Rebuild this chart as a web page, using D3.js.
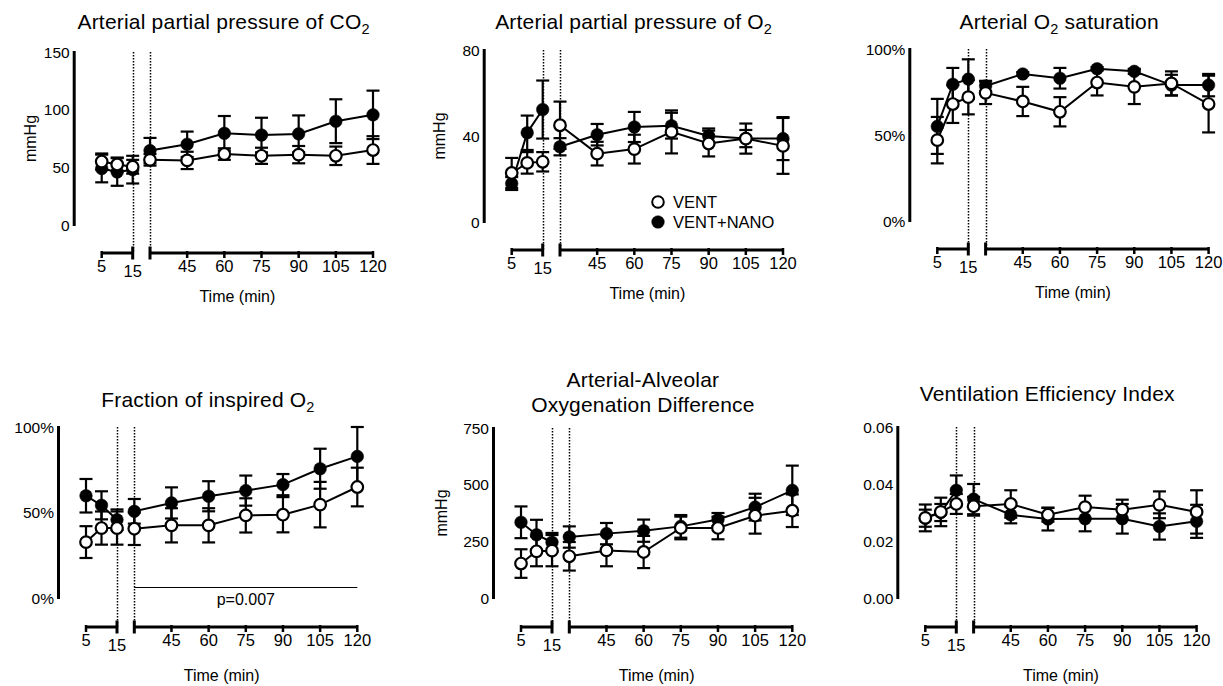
<!DOCTYPE html>
<html>
<head>
<meta charset="utf-8">
<script src="https://cdn.jsdelivr.net/npm/d3@7"></script>
<style>
  body { margin: 0; background: #fff; }
  svg { display: block; font-family: "Liberation Sans", Arial, sans-serif; }
</style>
</head>
<body>
<svg id="chart" width="1223" height="686"></svg>
<script>
// sampling times (min); gap between 15 and 30
const timePoints = [5, 10, 15, 30, 45, 60, 75, 90, 105, 120]
const xTickLabels = [5, 15, 45, 60, 75, 90, 105, 120]
const seriesNames = ['VENT', 'VENT+NANO']

const paco2Vent = [55, 52.5, 50.5, 56.5, 56, 61.5, 60, 61, 60, 65]
const paco2VentErr = [7, 6, 6, 5, 7.5, 5, 7, 7.5, 8, 12]
const paco2Nano = [49, 46, 48, 64.5, 70, 79.5, 78, 79, 90, 95.5]
const paco2NanoErr = [12, 12, 12, 11, 11, 15, 15, 16, 19, 21]

const pao2Vent = [22.8, 27.5, 28, 45, 31.8, 33.9, 41.9, 36.5, 38.8, 35.4]
const pao2VentErr = [7, 5, 4.5, 11, 5.5, 6.7, 10, 6, 7, 13]
const pao2Nano = [17.9, 41.5, 52.3, 35, 40.6, 44.2, 44.8, 40, 38.8, 38.8]
const pao2NanoErr = [3, 8, 13.5, 4, 5, 7, 6, 3.5, 4, 10]

const sao2Vent = [47, 68, 72, 74.5, 69.5, 63.5, 80.5, 78, 80, 68]
const sao2VentErr = [13.5, 11, 10, 6.5, 8.5, 8.5, 7.5, 10, 7, 16.5]
const sao2Nano = [55, 79.5, 82.5, 78.5, 85.5, 83, 88.5, 87, 79, 79]
const sao2NanoErr = [16, 9.5, 11.5, 3, 1, 6, 1, 1.5, 6, 6.5]

const fio2Vent = [32.7, 40.9, 40.9, 40.5, 42.5, 42.5, 48.3, 48.7, 54.6, 64.9]
const fio2VentErr = [9.3, 9.7, 9.7, 9.5, 10, 10, 10, 10.3, 13.3, 11.3]
const fio2Nano = [59.8, 54.2, 45.8, 50.7, 55.6, 59.5, 62.8, 66.3, 75.6, 82.8]
const fio2NanoErr = [9.8, 8.2, 6, 7.2, 9.1, 8.8, 8.8, 6.2, 11.7, 17.2]

const aadoVent = [152, 206, 209, 184, 210, 203, 309, 309, 363, 385]
const aadoVentErr = [63, 66, 69, 63, 70, 71, 50, 50, 79, 72]
const aadoNano = [334, 279, 246, 269, 284, 297, 316, 346, 401, 475]
const aadoNanoErr = [70, 66, 41, 47, 47, 49, 50, 29, 59, 109]

const veiVent = [0.0281, 0.0302, 0.033, 0.0322, 0.033, 0.0292, 0.0319, 0.031, 0.0327, 0.0302]
const veiVentErr = [0.0047, 0.005, 0.0035, 0.0033, 0.0048, 0.0024, 0.004, 0.0035, 0.0047, 0.0076]
const veiNano = [0.028, 0.030, 0.0378, 0.0347, 0.0292, 0.0277, 0.0278, 0.0278, 0.0251, 0.0269]
const veiNanoErr = [0.003, 0.003, 0.0052, 0.0053, 0.003, 0.004, 0.0044, 0.0052, 0.0046, 0.0058]

const fio2PValue = 'p=0.007'

const panels = [
  { title: ['Arterial partial pressure of CO', '2', ''], yTicks: [0, 50, 100, 150], fmt: d3.format('d'), unit: 'mmHg',
    vent: paco2Vent, ventErr: paco2VentErr, nano: paco2Nano, nanoErr: paco2NanoErr,
    x5: 101.7, top: 52, bottom: 225, axisY: 253, titleY: 29, timeDy: 49, unitDx: 44 },
  { title: ['Arterial partial pressure of O', '2', ''], yTicks: [0, 40, 80], fmt: d3.format('d'), unit: 'mmHg',
    vent: pao2Vent, ventErr: pao2VentErr, nano: pao2Nano, nanoErr: pao2NanoErr, legend: true,
    x5: 511.7, top: 50, bottom: 222, axisY: 250, titleY: 29, timeDy: 49, unitDx: 45 },
  { title: ['Arterial O', '2', ' saturation'], yTicks: [0, 50, 100], fmt: d => d + '%',
    vent: sao2Vent, ventErr: sao2VentErr, nano: sao2Nano, nanoErr: sao2NanoErr,
    x5: 937.3, top: 49, bottom: 221, axisY: 249, titleY: 29, timeDy: 49 },
  { title: ['Fraction of inspired O', '2', ''], yTicks: [0, 50, 100], fmt: d => d + '%',
    vent: fio2Vent, ventErr: fio2VentErr, nano: fio2Nano, nanoErr: fio2NanoErr, pValue: fio2PValue,
    x5: 86, top: 427, bottom: 598, axisY: 627, titleY: 406.5, timeDy: 54 },
  { title: ['Arterial-Alveolar', 'Oxygenation Difference'], twoLine: true, yTicks: [0, 250, 500, 750], fmt: d3.format('d'), unit: 'mmHg',
    vent: aadoVent, ventErr: aadoVentErr, nano: aadoNano, nanoErr: aadoNanoErr,
    x5: 521, top: 428, bottom: 598, axisY: 627, titleY: 386.5, timeDy: 54, unitDx: 52 },
  { title: ['Ventilation Efficiency Index', '', ''], yTicks: [0, 0.02, 0.04, 0.06], fmt: d3.format('.2f'),
    vent: veiVent, ventErr: veiVentErr, nano: veiNano, nanoErr: veiNanoErr,
    x5: 925.3, top: 427, bottom: 598, axisY: 627, titleY: 401, timeDy: 54 }
]

const svg = d3.select('#chart')
svg.append('rect').attr('width', 1223).attr('height', 686).attr('fill', '#fff')

panels.forEach(p => drawPanel(p))

function drawPanel (p) {
  const g = svg.append('g')
  const yMax = p.yTicks[p.yTicks.length - 1]
  const y = d3.scaleLinear().domain([0, yMax]).range([p.bottom, p.top])
  const xA = d3.scaleLinear().domain([5, 15]).range([p.x5, p.x5 + 31])
  const xB = d3.scaleLinear().domain([30, 120]).range([p.x5 + 48.3, p.x5 + 271.3])
  const x = t => t <= 15 ? xA(t) : xB(t)
  const yAxisX = p.x5 - 27.5

  // title
  const cx = (yAxisX + xB(120)) / 2
  if (p.twoLine) {
    p.title.forEach((line, i) => g.append('text').attr('x', cx).attr('y', p.titleY + i * 25)
      .attr('text-anchor', 'middle').attr('font-size', 21).attr('letter-spacing', 0.2).text(line))
  } else {
    const t = g.append('text').attr('x', cx).attr('y', p.titleY).attr('text-anchor', 'middle')
      .attr('font-size', 21).attr('letter-spacing', 0.2)
    t.append('tspan').text(p.title[0])
    if (p.title[1]) t.append('tspan').attr('font-size', 14.5).attr('dy', 5).text(p.title[1])
    if (p.title[2]) t.append('tspan').attr('dy', -5).text(p.title[2])
  }

  // y axis
  g.append('line').attr('x1', yAxisX).attr('x2', yAxisX).attr('y1', y(yMax) - 1).attr('y2', y(0) + 1)
    .attr('stroke', '#000').attr('stroke-width', 3)
  g.selectAll('.ytick').data(p.yTicks).join('text').attr('class', 'ytick')
    .attr('x', yAxisX - 4.5).attr('y', d => y(d)).attr('dy', '0.36em')
    .attr('text-anchor', 'end').attr('font-size', 15.5).text(p.fmt)
  if (p.unit) {
    g.append('text').attr('transform', `translate(${yAxisX - p.unitDx},${(p.top + p.bottom) / 2}) rotate(-90)`)
      .attr('text-anchor', 'middle').attr('dy', '0.35em').attr('font-size', 16).text(p.unit)
  }

  // dotted break lines
  g.selectAll('.brk').data([xA(15), xB(30)]).join('line').attr('class', 'brk')
    .attr('x1', d => Math.round(d) + 0.5).attr('x2', d => Math.round(d) + 0.5).attr('y1', y(yMax)).attr('y2', p.axisY)
    .attr('stroke', '#000').attr('stroke-width', 1.5).attr('stroke-dasharray', '1.5,1.5')

  // x axis, two segments
  const segs = [[xA(5), xA(15)], [xB(30), xB(120)]]
  g.selectAll('.xseg').data(segs).join('line').attr('class', 'xseg')
    .attr('x1', d => d[0]).attr('x2', d => d[1]).attr('y1', p.axisY).attr('y2', p.axisY)
    .attr('stroke', '#000').attr('stroke-width', 3)
  const tickPos = [5, 45, 60, 75, 90, 105, 120].map(x)
  g.selectAll('.xtick').data(tickPos).join('line').attr('class', 'xtick')
    .attr('x1', d => d).attr('x2', d => d).attr('y1', p.axisY - 2).attr('y2', p.axisY + 5)
    .attr('stroke', '#000').attr('stroke-width', 2.5)
  g.selectAll('.xbrk').data([xA(15), xB(30)]).join('line').attr('class', 'xbrk')
    .attr('x1', d => d).attr('x2', d => d).attr('y1', p.axisY - 6.5).attr('y2', p.axisY + 6.5)
    .attr('stroke', '#000').attr('stroke-width', 3)
  g.selectAll('.xlab').data(xTickLabels).join('text').attr('class', 'xlab')
    .attr('x', d => x(d)).attr('y', d => p.axisY + (d === 15 ? 23.5 : 19))
    .attr('text-anchor', 'middle').attr('font-size', 16.5).text(d => d)
  g.append('text').attr('x', (xA(5) + xB(120)) / 2).attr('y', p.axisY + p.timeDy)
    .attr('text-anchor', 'middle').attr('font-size', 16).text('Time (min)')

  // p value bar
  if (p.pValue) {
    const py = Math.round(y(6.4)) + 0.5
    g.append('line').attr('x1', xB(30)).attr('x2', xB(120)).attr('y1', py).attr('y2', py)
      .attr('stroke', '#000').attr('stroke-width', 1)
    g.append('text').attr('x', (xB(30) + xB(120)) / 2).attr('y', py + 17)
      .attr('text-anchor', 'middle').attr('font-size', 16).text(p.pValue)
  }

  // series: NANO first, VENT on top
  drawSeries(g, p.nano, p.nanoErr, true)
  drawSeries(g, p.vent, p.ventErr, false)

  function drawSeries (g, vals, errs, filled) {
    const pts = timePoints.map((t, i) => ({ t, v: vals[i], e: errs[i] }))
    const sg = g.append('g')
    const bars = sg.selectAll('.err').data(pts).join('g')
    bars.append('line').attr('x1', d => x(d.t)).attr('x2', d => x(d.t))
      .attr('y1', d => y(d.v - d.e)).attr('y2', d => y(d.v + d.e))
      .attr('stroke', '#000').attr('stroke-width', 2.2)
    bars.selectAll('.cap').data(d => [d.v - d.e, d.v + d.e].map(v => ({ t: d.t, v }))).join('line')
      .attr('x1', d => x(d.t) - 6.5).attr('x2', d => x(d.t) + 6.5)
      .attr('y1', d => y(d.v)).attr('y2', d => y(d.v))
      .attr('stroke', '#000').attr('stroke-width', 2.2)
    const line = d3.line().x(d => x(d.t)).y(d => y(d.v))
    sg.selectAll('.ln').data([pts.filter(d => d.t <= 15), pts.filter(d => d.t >= 30)]).join('path')
      .attr('d', line).attr('fill', 'none').attr('stroke', '#000').attr('stroke-width', 2)
    sg.selectAll('.mk').data(pts).join('circle')
      .attr('cx', d => x(d.t)).attr('cy', d => y(d.v))
      .attr('r', filled ? 6.3 : 5.8)
      .attr('fill', filled ? '#000' : '#fff').attr('stroke', '#000').attr('stroke-width', filled ? 0.5 : 2.2)
  }

  // legend
  if (p.legend) {
    const lg = g.append('g')
    seriesNames.forEach((name, i) => {
      lg.append('circle').attr('cx', 658).attr('cy', 202 + i * 20).attr('r', i ? 6.3 : 5.8)
        .attr('fill', i ? '#000' : '#fff').attr('stroke', '#000').attr('stroke-width', i ? 0.5 : 2)
      lg.append('text').attr('x', 673).attr('y', 202 + i * 20).attr('dy', '0.36em')
        .attr('font-size', 16.5).text(name)
    })
  }
}
</script>
</body>
</html>
